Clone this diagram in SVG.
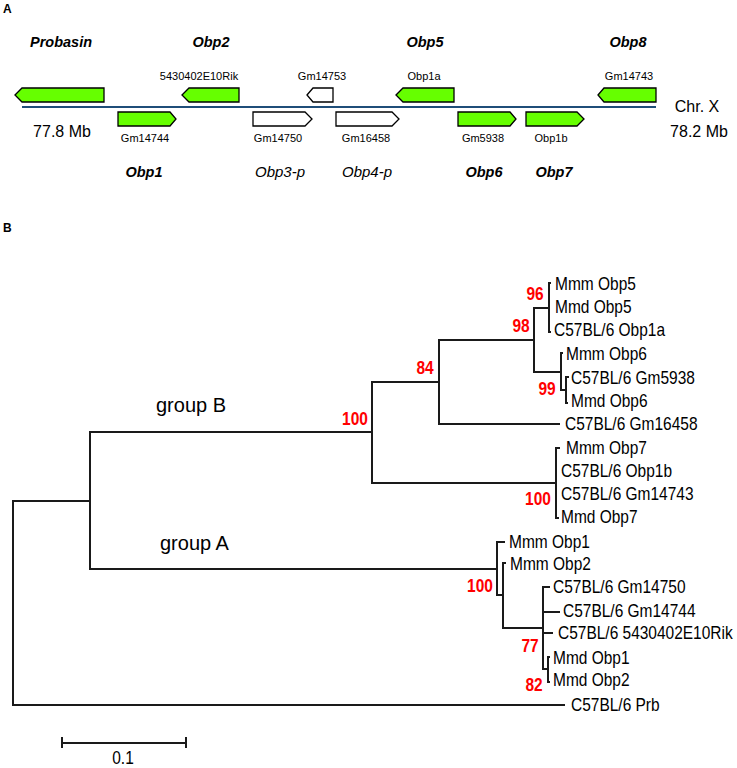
<svg xmlns="http://www.w3.org/2000/svg" width="737" height="768" viewBox="0 0 737 768">
<style>
text{font-family:"Liberation Sans",Arial,sans-serif;fill:#000}
.panel{font-size:12px;font-weight:bold}
.gname{font-size:14.5px;font-weight:bold;font-style:italic;text-anchor:middle}
.pname{font-size:15px;font-style:italic;text-anchor:middle}
.loc{font-size:11px;text-anchor:middle}
.mb{font-size:16px;text-anchor:middle}
.gene{fill:#66ff00;stroke:#000;stroke-width:1.3}
.pseudo{fill:#fff;stroke:#000;stroke-width:1.3}
.chr{stroke:#1f4e79;stroke-width:2;fill:none}
.br{fill:none;stroke:#1a1a1a;stroke-width:2}
.leaf{font-size:15.5px}
.bs{font-size:15.5px;font-weight:bold;fill:#ff0000;text-anchor:middle}
.grp{font-size:20px}
</style>
<rect width="737" height="768" fill="#fff"/>
<text class="panel" x="3" y="13">A</text>
<g id="panelA-connectors">
<path class="chr" d="M22,107 H656"/>
</g>
<g id="probasin"><polygon class="gene" points="15,95 22,88 104,88 104,102 22,102"/><text class="gname" x="61" y="47">Probasin</text></g>
<g id="obp2"><polygon class="gene" points="182,95 189,88 239,88 239,102 189,102"/><text class="loc" x="199" y="80">5430402E10Rik</text><text class="gname" x="211" y="47">Obp2</text></g>
<g id="gm14753"><polygon class="pseudo" points="307,95 313,88 333,88 333,102 313,102"/><text class="loc" x="322" y="80">Gm14753</text></g>
<g id="obp5"><polygon class="gene" points="396,95 403,88 454,88 454,102 403,102"/><text class="loc" x="424" y="80">Obp1a</text><text class="gname" x="425" y="47">Obp5</text></g>
<g id="obp8"><polygon class="gene" points="598,95 604,88 656,88 656,102 604,102"/><text class="loc" x="629" y="80">Gm14743</text><text class="gname" x="628" y="47">Obp8</text></g>
<g id="obp1"><polygon class="gene" points="118,112 170,112 176,119 170,126 118,126"/><text class="loc" x="145" y="142">Gm14744</text><text class="gname" x="144" y="177">Obp1</text></g>
<g id="obp3p"><polygon class="pseudo" points="253,112 305,112 312,119 305,126 253,126"/><text class="loc" x="278" y="142">Gm14750</text><text class="pname" x="280" y="177">Obp3-p</text></g>
<g id="obp4p"><polygon class="pseudo" points="336,112 392,112 399,119 392,126 336,126"/><text class="loc" x="366" y="142">Gm16458</text><text class="pname" x="367" y="177">Obp4-p</text></g>
<g id="obp6"><polygon class="gene" points="458,112 510,112 516,119 510,126 458,126"/><text class="loc" x="483" y="142">Gm5938</text><text class="gname" x="484" y="177">Obp6</text></g>
<g id="obp7"><polygon class="gene" points="526,112 577,112 584,119 577,126 526,126"/><text class="loc" x="551" y="142">Obp1b</text><text class="gname" x="554" y="177">Obp7</text></g>
<g id="scale-labels">
<text class="mb" x="62" y="137">77.8 Mb</text>
<text class="mb" x="697" y="112">Chr. X</text>
<text class="mb" x="699" y="137">78.2 Mb</text>
</g>

<text class="panel" x="3" y="232">B</text>
<g id="tree-branches">
<path class="br" d="M90,501 H13 V705 H565"/>
<path class="br" d="M372,432 H90 V569 H497"/>
<path class="br" d="M439,382 H372 V483 H556"/>
<path class="br" d="M534,340 H439 V424 H560"/>
<path class="br" d="M549,308 H534 V372 H561"/>
<path class="br" d="M551,283 H549 V332 H551"/>
<path class="br" d="M563,353 H561 V390 H566"/>
<path class="br" d="M569,377 H566 V403 H568"/>
<path class="br" d="M560,448 H556 V518 H559"/>
<path class="br" d="M505,542 H497 V595 H503"/>
<path class="br" d="M506,563 H503 V628 H543"/>
<path class="br" d="M550,587 H543 V669 H548 M543,612 H560 M543,633 H553"/>
<path class="br" d="M550,657 H548 V682 H550"/>
<path class="br" d="M62,737 V748 M62,743 H186 M186,737 V748"/>
</g>
<g id="leaves">
<text class="leaf" transform="translate(555,290) scale(1,1.13)">Mmm Obp5</text>
<text class="leaf" transform="translate(555,313) scale(1,1.13)">Mmd Obp5</text>
<text class="leaf" transform="translate(554,336) scale(1,1.13)">C57BL/6 Obp1a</text>
<text class="leaf" transform="translate(566,360) scale(1,1.13)">Mmm Obp6</text>
<text class="leaf" transform="translate(571,384) scale(1,1.13)">C57BL/6 Gm5938</text>
<text class="leaf" transform="translate(571,407) scale(1,1.13)">Mmd Obp6</text>
<text class="leaf" transform="translate(565,430) scale(1,1.13)">C57BL/6 Gm16458</text>
<text class="leaf" transform="translate(566,454) scale(1,1.13)">Mmm Obp7</text>
<text class="leaf" transform="translate(561,477) scale(1,1.13)">C57BL/6 Obp1b</text>
<text class="leaf" transform="translate(561,500) scale(1,1.13)">C57BL/6 Gm14743</text>
<text class="leaf" transform="translate(561,523) scale(1,1.13)">Mmd Obp7</text>
<text class="leaf" transform="translate(509,548) scale(1,1.13)">Mmm Obp1</text>
<text class="leaf" transform="translate(510,570) scale(1,1.13)">Mmm Obp2</text>
<text class="leaf" transform="translate(553,593) scale(1,1.13)">C57BL/6 Gm14750</text>
<text class="leaf" transform="translate(563,617) scale(1,1.13)">C57BL/6 Gm14744</text>
<text class="leaf" transform="translate(558,639) scale(1,1.13)">C57BL/6  5430402E10Rik</text>
<text class="leaf" transform="translate(553,664) scale(1,1.13)">Mmd Obp1</text>
<text class="leaf" transform="translate(553,686) scale(1,1.13)">Mmd Obp2</text>
<text class="leaf" transform="translate(571,711) scale(1,1.13)">C57BL/6 Prb</text>
</g>
<g id="bootstrap">
<text class="bs" transform="translate(535,300) scale(1,1.2)">96</text>
<text class="bs" transform="translate(521,332) scale(1,1.2)">98</text>
<text class="bs" transform="translate(547,395) scale(1,1.2)">99</text>
<text class="bs" transform="translate(425,374) scale(1,1.2)">84</text>
<text class="bs" transform="translate(355,425) scale(1,1.2)">100</text>
<text class="bs" transform="translate(538,505) scale(1,1.2)">100</text>
<text class="bs" transform="translate(480,592) scale(1,1.2)">100</text>
<text class="bs" transform="translate(530,652) scale(1,1.2)">77</text>
<text class="bs" transform="translate(534,691) scale(1,1.2)">82</text>
</g>
<g id="groups">
<text class="grp" x="156" y="412">group B</text>
<text class="grp" x="160" y="550">group A</text>
</g>
<text class="leaf" text-anchor="middle" transform="translate(123,764) scale(1,1.13)">0.1</text>
</svg>
